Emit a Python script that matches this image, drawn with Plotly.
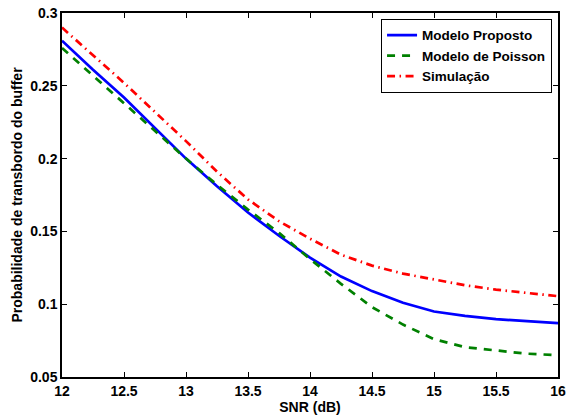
import plotly.graph_objects as go

snr = [12, 12.25, 12.5, 12.75, 13, 13.25, 13.5, 13.75, 14, 14.25, 14.5, 14.75, 15, 15.25, 15.5, 15.75, 16]
proposto = [0.281, 0.261, 0.242, 0.221, 0.200, 0.181, 0.163, 0.147, 0.132, 0.119, 0.109, 0.101, 0.095, 0.092, 0.0897, 0.0884, 0.087]
poisson = [0.276, 0.257, 0.238, 0.219, 0.200, 0.182, 0.165, 0.149, 0.131, 0.114, 0.098, 0.086, 0.076, 0.0705, 0.0685, 0.066, 0.065]
simulacao = [0.290, 0.271, 0.252, 0.232, 0.212, 0.191, 0.172, 0.157, 0.145, 0.134, 0.1265, 0.121, 0.117, 0.113, 0.110, 0.108, 0.1055]

x_ticks = [12, 12.5, 13, 13.5, 14, 14.5, 15, 15.5, 16]
x_labels = ["12", "12.5", "13", "13.5", "14", "14.5", "15", "15.5", "16"]
y_ticks = [0.05, 0.1, 0.15, 0.2, 0.25, 0.3]
y_labels = ["0.05", "0.1", "0.15", "0.2", "0.25", "0.3"]

font = "Liberation Sans"

fig = go.Figure()
fig.add_trace(go.Scatter(x=snr, y=proposto, mode="lines", name="Modelo Proposto",
                         line=dict(color="#0000ff", width=2.7)))
fig.add_trace(go.Scatter(x=snr, y=poisson, mode="lines", name="Modelo de Poisson",
                         line=dict(color="#008000", width=2.7, dash="8px,7px")))
fig.add_trace(go.Scatter(x=snr, y=simulacao, mode="lines", name="Simulação",
                         line=dict(color="#ff0000", width=2.7, dash="8px,4.5px,1.5px,4.5px")))

axis_common = dict(showgrid=False, zeroline=False, showline=True, linecolor="black",
                   linewidth=1.5, mirror="ticks", ticks="inside", ticklen=5,
                   tickcolor="black", automargin=False,
                   tickfont=dict(family=font, size=14, color="black", weight=700))

fig.update_layout(
    width=566, height=417,
    margin=dict(l=62, r=8, t=13, b=40),
    paper_bgcolor="white", plot_bgcolor="white",
    font=dict(family=font, color="black", weight=700),
    xaxis=dict(range=[12, 16], tickvals=x_ticks, ticktext=x_labels,
               title=dict(text="SNR (dB)", font=dict(family=font, size=14, color="black", weight=700), standoff=0),
               **axis_common),
    yaxis=dict(range=[0.05, 0.3], tickvals=y_ticks, ticktext=y_labels,
               title=dict(text="Probabilidade de transbordo do buffer", font=dict(family=font, size=14, color="black", weight=700), standoff=4),
               **axis_common),
    legend=dict(x=0.988, y=0.984, xanchor="right", yanchor="top",
                bgcolor="white", bordercolor="black", borderwidth=1,
                font=dict(family=font, size=13.5, color="black", weight=700),
                tracegroupgap=0, itemwidth=30),
    showlegend=True,
)

fig.write_html("out.html", config={"displayModeBar": False},
               post_script="document.body.style.margin='0';document.body.style.padding='0';")
